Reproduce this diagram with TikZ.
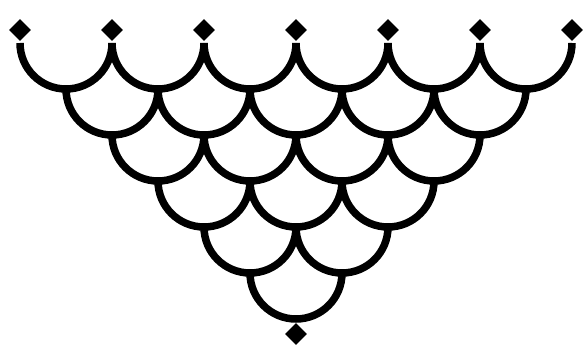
\documentclass[tikz,border=0pt]{standalone}
\usetikzlibrary{shapes.geometric}

\begin{document}
\begin{tikzpicture}[
  x=1pt, y=-1pt,
  gem/.style={diamond,fill=black,inner sep=0pt,minimum size=22pt},
  scaleline/.style={line width=7.5pt,color=black},
]
\useasboundingbox (0,0) rectangle (584,347);
% gems on top and the one at the tip
\foreach \k in {0,...,6}
  \node[gem] (top\k) at ({20+92*\k},30) {};
\node[gem] (tip) at (296,334) {};
% rows of hanging arcs, one fewer each row
\foreach \row in {0,...,5}{
  \pgfmathtruncatemacro\last{5-\row}
  \foreach \k in {0,...,\last}{
    \coordinate (s\row-\k) at ({20+46*\row+92*\k},{43+46*\row});
    \draw[scaleline] (s\row-\k) arc[start angle=180,end angle=0,radius=46];
  }
}
\end{tikzpicture}
\end{document}
